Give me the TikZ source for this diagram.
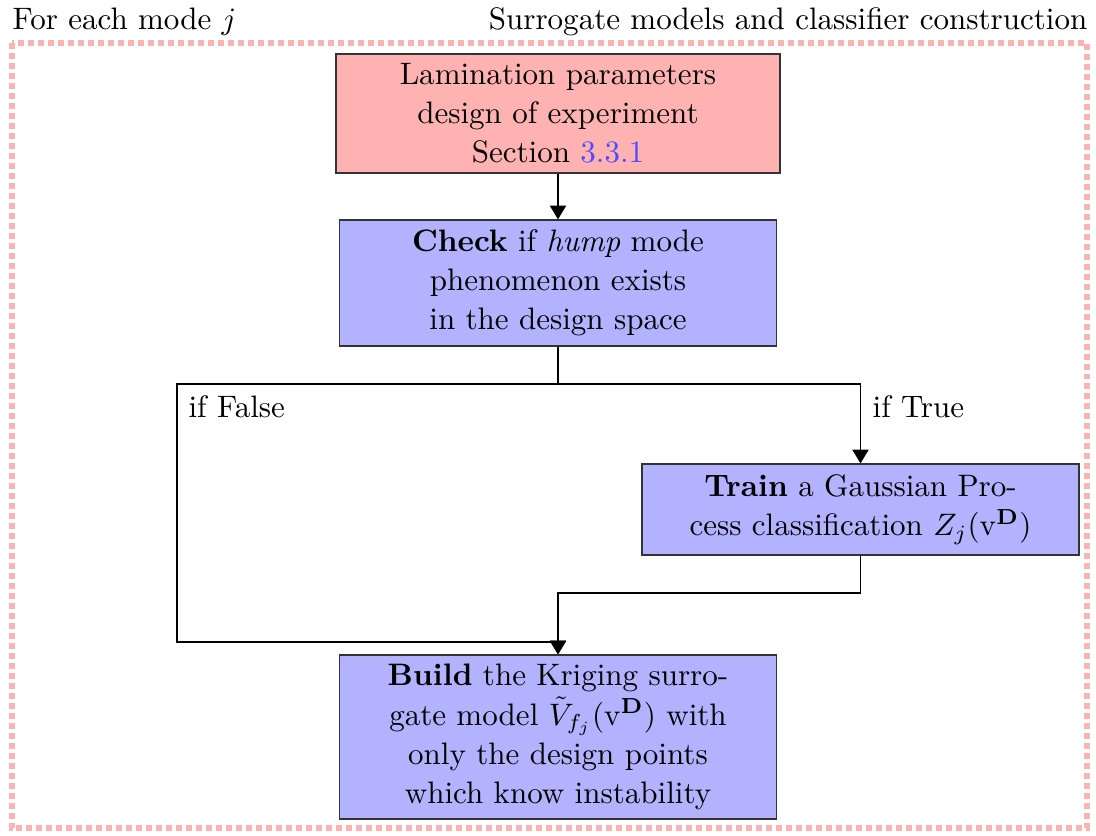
\documentclass[tikz,border=0pt]{standalone}
\usetikzlibrary{arrows.meta}
\begin{document}
\begin{tikzpicture}[x=0.3222pt,y=-0.3222pt,
  box/.style={draw=black!80,line width=0.4pt,align=center,inner sep=0pt,anchor=center,text width=130pt,
    font=\fontsize{10pt}{12.6pt}\selectfont},
  redbox/.style={box,fill=red!30},
  bluebox/.style={box,fill=blue!30},
  arr/.style={draw=black,line width=0.4pt,-{Triangle[width=5.2pt,length=4.4pt]}},
  lbl/.style={inner sep=0pt}]
\useasboundingbox (0,0) rectangle (1096,835);
\draw[red!30,line width=1.93pt,dash pattern=on 1.93pt off 1.29pt] (12,43) rectangle (1087,828);
\node[lbl,anchor=base west] (hl) at (12,29) {For each mode $j$};
\node[lbl,anchor=base east] (hr) at (1088,29) {Surrogate models and classifier construction};
\node[redbox,minimum width=143.06pt,minimum height=38.34pt] (b1) at (558,113.5)
  {Lamination parameters\\design of experiment\\Section \textcolor{blue!70}{3.3.1}};
\node[bluebox,minimum width=140.8pt,minimum height=40.6pt] (b2) at (558,283)
  {\textbf{Check} if \emph{hump} mode\\phenomenon exists\\in the design space};
\node[bluebox,minimum width=140.8pt,minimum height=29.32pt] (tr) at (860.5,509.5)
  {\textbf{Train} a Gaussian Pro-\\cess classification $Z_j(\mathrm{v}^{\mathbf{D}})$};
\node[bluebox,minimum width=140.8pt,minimum height=52.84pt] (bd) at (558,737)
  {\textbf{Build} the Kriging surro-\\gate model $\tilde{V}_{f_j}(\mathrm{v}^{\mathbf{D}})$ with\\only the design points\\which know instability};
\coordinate (sp) at (558,384);
\coordinate (lt) at (177,384);
\coordinate (lb) at (177,642);
\coordinate (tb) at (860.5,593);
\draw[arr] (b1.south) -- (b2.north);
\draw[arr] (b2.south) -- (sp) -| (tr.north);
\draw[arr] (sp) -- (lt) -- (lb) -| (bd.north);
\draw[arr] (tr.south) -- (tb) -| (bd.north);
\node[lbl,anchor=base west] (lf) at (188,417) {if False};
\node[lbl,anchor=base west] (lt2) at (872,417) {if True};
\end{tikzpicture}
\end{document}
